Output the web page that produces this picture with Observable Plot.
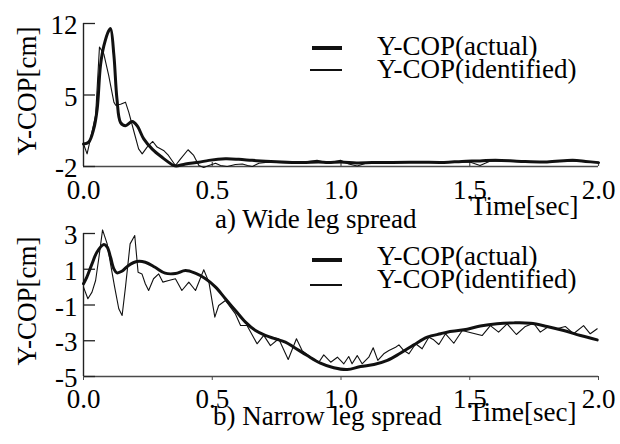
<!DOCTYPE html>
<html><head><meta charset="utf-8">
<script src="https://cdn.jsdelivr.net/npm/d3@7"></script>
<script src="https://cdn.jsdelivr.net/npm/@observablehq/plot@0.6"></script>
<style>
body{margin:0;background:#fff;}
#wrap{position:relative;width:620px;height:444px;overflow:hidden;font-family:"Liberation Serif","Times New Roman",serif;color:#000;}
#wrap svg{position:absolute;left:0;}
.t{position:absolute;font-size:27px;line-height:27px;white-space:nowrap;}
.ylab{position:absolute;font-size:27px;line-height:27px;white-space:nowrap;transform:translate(-50%,-50%) rotate(-90deg);}
.lg{position:absolute;background:#111;}
</style></head><body><div id="wrap"></div>
<script>
// ---------- data ----------
const xTicks = [0, 0.5, 1.0, 1.5, 2.0];
const xDomain = [0, 2];

// a) Wide leg spread
const wideYTicks = [-2, 5, 12];
const wideYDomain = [-2, 12];
const wideActualT = [0,0.02,0.04,0.053,0.066,0.079,0.098,0.105,0.118,0.13,0.144,0.163,0.189,0.208,0.234,0.267,0.305,0.35,0.36,0.396,0.448,0.487,0.551,0.603,0.655,0.707,0.77,0.85,0.913,0.95,1.0,1.06,1.12,1.2,1.3,1.4,1.47,1.54,1.6,1.7,1.8,1.9,1.95,2.0];
const wideActualV = [0.2,0.38,1.7,3.6,7.9,9.8,11.3,11.5,8.9,4.6,2.3,2.0,2.4,2.0,0.7,-0.3,-1.1,-1.9,-1.95,-1.75,-1.58,-1.4,-1.25,-1.3,-1.4,-1.48,-1.55,-1.62,-1.55,-1.62,-1.55,-1.65,-1.62,-1.6,-1.58,-1.6,-1.5,-1.45,-1.38,-1.5,-1.55,-1.4,-1.5,-1.62];
const wideIdentT = [0,0.014,0.027,0.047,0.062,0.079,0.098,0.118,0.125,0.144,0.163,0.176,0.195,0.214,0.228,0.247,0.269,0.286,0.311,0.33,0.357,0.377,0.406,0.428,0.448,0.467,0.487,0.513,0.532,0.558,0.59,0.617,0.637,0.656,0.681,0.707,0.75,0.8,0.85,0.907,0.95,0.998,1.03,1.063,1.1,1.2,1.3,1.4,1.5,1.54,1.58,1.7,1.8,1.9,2.0];
const wideIdentV = [0.2,-0.76,0.7,3.0,9.7,9.0,6.9,4.3,4.0,4.1,4.3,3.3,1.5,-0.27,-0.76,-0.1,0.45,-0.1,-0.43,-0.92,-1.9,-1.25,-0.36,-0.92,-1.9,-2.1,-1.9,-1.68,-1.9,-2.0,-1.8,-1.75,-1.9,-2.0,-1.68,-1.6,-1.6,-1.65,-1.6,-1.4,-1.65,-1.4,-1.75,-1.95,-1.65,-1.6,-1.58,-1.6,-1.55,-1.9,-1.45,-1.5,-1.55,-1.45,-1.6];

// b) Narrow leg spread
const narrowYTicks = [-5, -3, -1, 1, 3];
const narrowYDomain = [-5, 3];
const narrowActualT = [0,0.013,0.033,0.052,0.079,0.092,0.105,0.118,0.13,0.149,0.175,0.207,0.24,0.278,0.317,0.357,0.396,0.434,0.474,0.513,0.551,0.59,0.629,0.668,0.706,0.745,0.784,0.817,0.869,0.92,0.972,1.024,1.076,1.128,1.18,1.23,1.283,1.335,1.387,1.412,1.477,1.541,1.606,1.671,1.736,1.8,1.865,1.93,1.995];
const narrowActualV = [0.19,0.56,1.3,1.95,2.38,2.24,1.67,1.02,0.8,0.89,1.21,1.43,1.39,1.11,0.78,0.76,0.93,0.78,0.47,0.0,-0.65,-1.31,-1.96,-2.43,-2.7,-2.89,-3.08,-3.36,-3.83,-4.25,-4.51,-4.61,-4.44,-4.33,-4.1,-3.7,-3.23,-2.8,-2.61,-2.52,-2.39,-2.18,-2.05,-2.0,-2.02,-2.2,-2.43,-2.71,-2.95];
const narrowIdentT = [0,0.017,0.033,0.047,0.06,0.074,0.092,0.105,0.121,0.137,0.15,0.163,0.181,0.199,0.212,0.227,0.24,0.253,0.272,0.292,0.308,0.331,0.357,0.382,0.409,0.435,0.467,0.487,0.51,0.525,0.551,0.59,0.61,0.635,0.674,0.7,0.726,0.758,0.795,0.827,0.849,0.882,0.914,0.933,0.96,0.986,1.011,1.03,1.043,1.063,1.082,1.108,1.125,1.143,1.166,1.186,1.212,1.225,1.244,1.264,1.29,1.315,1.341,1.36,1.38,1.406,1.438,1.471,1.497,1.548,1.58,1.612,1.645,1.681,1.716,1.748,1.774,1.806,1.838,1.871,1.903,1.942,1.968,1.995];
const narrowIdentV = [0.0,-0.65,-0.28,0.37,1.67,3.2,2.42,1.3,0.0,-1.21,-1.59,0.0,2.42,2.89,0.83,0.74,0.19,-0.19,0.47,0.74,0.28,0.37,0.47,-0.19,0.28,-0.19,0.97,0.28,-1.68,-1.03,-0.75,-1.5,-2.15,-2.15,-3.17,-2.7,-3.27,-2.89,-4.05,-2.89,-3.55,-3.92,-4.2,-3.79,-4.2,-3.92,-4.29,-3.88,-4.29,-3.83,-4.29,-3.92,-3.39,-4.1,-3.73,-3.55,-3.36,-3.23,-3.55,-3.73,-3.17,-3.45,-2.8,-2.95,-3.21,-2.61,-3.14,-2.43,-2.52,-2.71,-2.15,-2.52,-2.05,-2.65,-2.2,-2.02,-2.52,-2.2,-2.33,-2.2,-2.61,-2.15,-2.61,-2.33];

const seriesNames = ["Y-COP(actual)", "Y-COP(identified)"];
const panelTitles = ["a) Wide leg spread", "b) Narrow leg spread"];
const xLabel = "Time[sec]";
const yLabel = "Y-COP[cm]";

// ---------- drawing ----------
const W = 620, ML = 83, MR = 22;
function panel({actT, actV, idT, idV, yDomain, yTicks, height, mt, mb, up}) {
  const act = actT.map((t, i) => ({t, v: actV[i]}));
  const idf = idT.map((t, i) => ({t, v: idV[i]}));
  const fw = W - ML - MR, fh = height - mt - mb;
  const marks = [
    Plot.ruleY([yDomain[0]], {stroke: "#4a4a4a", strokeWidth: 1.6}),
    Plot.ruleX([xDomain[0]], {stroke: "#222", strokeWidth: 1.4}),
    Plot.tickY(yTicks, {y: d => d, insetRight: fw - 12, stroke: "#222", strokeWidth: 1.3}),
    Plot.axisY({ticks: yTicks, tickSize: 0, tickPadding: 6, dy: 2, tickFormat: d => String(d), label: null}),
    Plot.axisX({ticks: xTicks, tickSize: up ? 0 : 4, tickPadding: up ? 13 : 8, tickFormat: d => d.toFixed(1), label: null, stroke: "#4a4a4a"}),
    Plot.line(idf, {x: "t", y: "v", stroke: "#111", strokeWidth: 1.1}),
    Plot.line(act, {x: "t", y: "v", stroke: "#111", strokeWidth: 3, curve: "catmull-rom"})
  ];
  if (up) marks.splice(3, 0, Plot.tickX(xTicks.slice(1), {x: d => d, insetTop: fh - 4, stroke: "#4a4a4a", strokeWidth: 1.2}));
  return Plot.plot({
    width: W, height, marginLeft: ML, marginRight: MR, marginTop: mt, marginBottom: mb,
    style: {fontFamily: "'Liberation Serif', 'Times New Roman', serif", fontSize: "27px", background: "transparent", color: "#000", overflow: "visible"},
    x: {domain: xDomain},
    y: {domain: yDomain},
    marks
  });
}

const wrap = document.getElementById("wrap");
const top1 = panel({actT: wideActualT, actV: wideActualV, idT: wideIdentT, idV: wideIdentV, yDomain: wideYDomain, yTicks: wideYTicks, height: 222, mt: 23, mb: 56, up: true});
top1.style.top = "0px";
const bot1 = panel({actT: narrowActualT, actV: narrowActualV, idT: narrowIdentT, idV: narrowIdentV, yDomain: narrowYDomain, yTicks: narrowYTicks, height: 222, mt: 11, mb: 68, up: false});
bot1.style.top = "222px";
wrap.appendChild(top1);
wrap.appendChild(bot1);

function addText(cls, txt, left, top) {
  const d = document.createElement("div");
  d.className = cls; d.textContent = txt;
  d.style.left = left + "px"; d.style.top = top + "px";
  wrap.appendChild(d);
}
function addLine(left, top, w, h) {
  const d = document.createElement("div");
  d.className = "lg";
  Object.assign(d.style, {left: left + "px", top: top + "px", width: w + "px", height: h + "px"});
  wrap.appendChild(d);
}
// y labels
addText("ylab", yLabel, 27, 91);
addText("ylab", yLabel, 27, 301);
// panel captions and x labels
addText("t", panelTitles[0], 215, 206);
addText("t", xLabel, 470, 193);
addText("t", panelTitles[1], 213, 403);
addText("t", xLabel, 468, 399);
// legends
[[33, 48, 70], [243, 260, 285]].forEach(([tt, ya, yi]) => {
  addLine(312, ya - 1.7, 30, 3.4);
  addLine(310, yi - 0.6, 32, 1.2);
  addText("t", seriesNames[0], 377, tt);
  addText("t", seriesNames[1], 377, tt + 23);
});
</script></body></html>
